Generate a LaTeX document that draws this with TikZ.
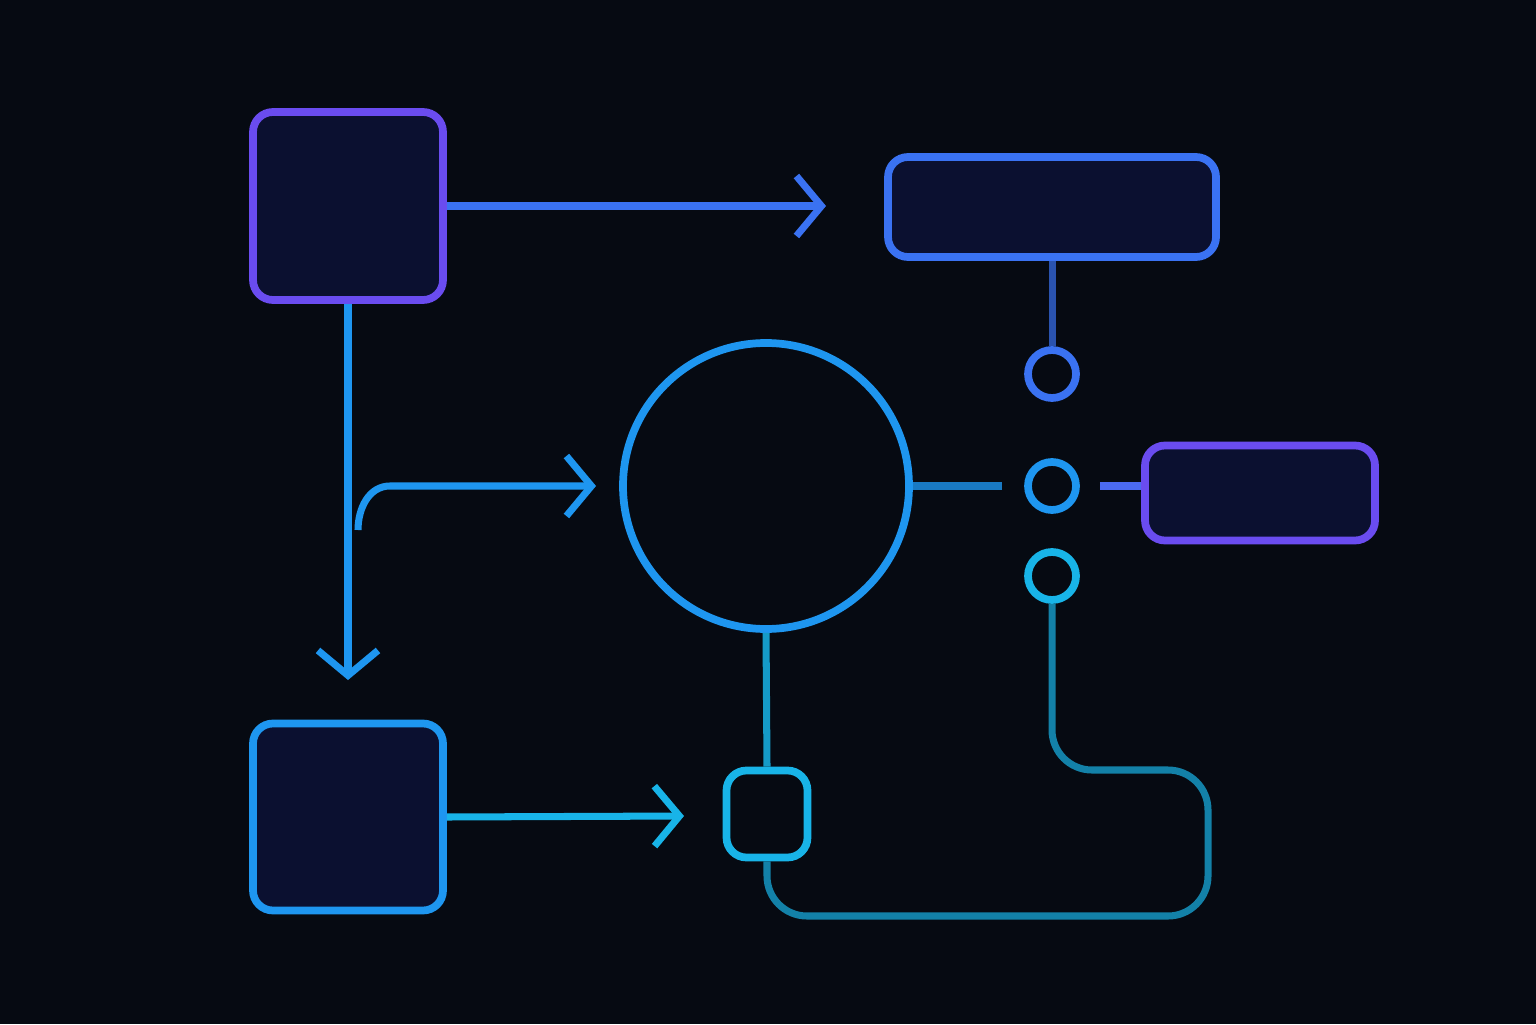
\documentclass[tikz,border=0pt]{standalone}
\usepackage{tikz}
\usetikzlibrary{positioning}
\usetikzlibrary{arrows.meta}
\usetikzlibrary{calc}
\definecolor{bgc}{HTML}{060A12}
\definecolor{violet}{HTML}{6A4CF0}
\definecolor{azure}{HTML}{3A72F2}
\definecolor{sky}{HTML}{1E96F0}
\definecolor{cyanl}{HTML}{18B4E8}
\definecolor{fillc}{HTML}{0B1030}
\tikzstyle{box}=[draw, rectangle, rounded corners=2mm, line width=2.2pt, fill=fillc, inner sep=0cm]
\tikzstyle{dot}=[draw, circle, line width=2.2pt, minimum size=0.48cm, inner sep=0cm]
\tikzstyle{link}=[line width=2pt]
\tikzstyle{arr}=[line width=2pt, -{Straight Barb[length=2.5mm, width=6mm, line width=2pt]}]

\begin{document}
\begin{tikzpicture}[x=1cm, y=1cm]
				
				\fill [bgc] (0,0) rectangle (15.36,10.24);
				\useasboundingbox (0,0) rectangle (15.36,10.24);
				
				\node (src) [box, draw=violet, minimum width=1.9cm, minimum height=1.88cm] at (3.48,8.18) {};
				\node (top) [box, draw=azure, minimum width=3.28cm, minimum height=1.0cm] at (10.52,8.17) {};
				\node (hub) [draw=sky, circle, line width=2.2pt, minimum size=2.86cm, fill=bgc] at (7.66,5.38) {};
				\node (p1) [dot, draw=azure] at (10.52,6.50) {};
				\node (p2) [dot, draw=sky] at (10.52,5.38) {};
				\node (p3) [dot, draw=cyanl] at (10.52,4.48) {};
				\node (side) [box, draw=violet, minimum width=2.3cm, minimum height=0.95cm] at (12.60,5.31) {};
				\node (low) [box, draw=sky, minimum width=1.9cm, minimum height=1.87cm] at (3.48,2.07) {};
				\node (port) [box, draw=cyanl, minimum width=0.81cm, minimum height=0.87cm, fill=bgc] at (7.67,2.10) {};
				
				\coordinate (tipA) at (8.26,8.18);
				\coordinate (tipB) at (3.48,3.44);
				\coordinate (tipC) at (5.96,5.38);
				\coordinate (tipD) at (6.84,2.08);
				\coordinate (fork) at (3.58,4.94);
				
				\draw [arr, azure] (src.east) to (tipA);
				\draw [arr, sky] (src.south) to (tipB);
				\draw [arr, sky] (fork) to[out=90, in=180] (3.90,5.38) to (tipC);
				\draw [arr, cyanl] (low.east) to (tipD);
				
				\draw [link, azure!70!bgc] (top.south) to (p1.north);
				\draw [link, sky!80!bgc] (hub.east) to ($(p2.west)+(-0.22,0)$);
				\draw [link, violet!60!sky] ($(p2.east)+(0.2,0)$) to (side.west |- p2);
				\draw [link, cyanl!85!bgc] (hub.south) to (port.north);
				\draw [link, cyanl!70!bgc, rounded corners=4mm] (p3.south) -- (10.52,2.54) -- (12.08,2.54) -- (12.08,1.08) -- (7.67,1.08) -- (port.south);
				\end{tikzpicture}
\end{document}
